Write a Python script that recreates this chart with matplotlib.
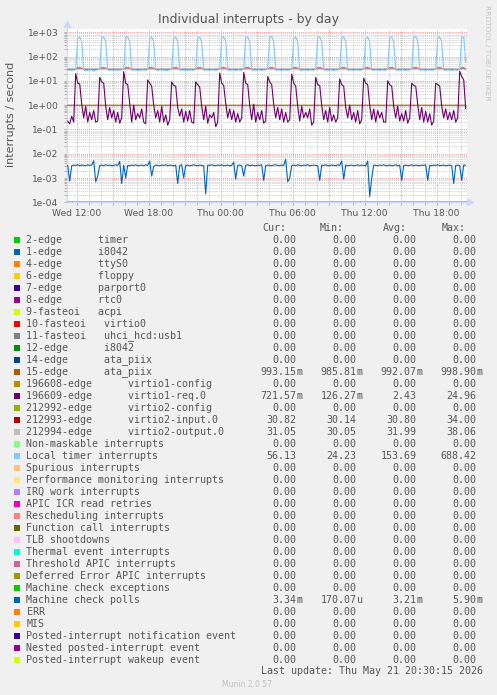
import numpy as np
import pandas as pd
import matplotlib
matplotlib.use("Agg")
import matplotlib.pyplot as plt
import matplotlib.dates as mdates
from matplotlib.patches import Rectangle
from matplotlib.lines import Line2D
from matplotlib.ticker import FuncFormatter, LogLocator, NullFormatter
from datetime import datetime

W, H = 497, 695
FG = "#555555"
MONO = "DejaVu Sans Mono"

# 10 minute samples, Wed 11:15 -> Thu 20:25
times = pd.date_range("2026-05-20 11:15", periods=200, freq="10min").to_pydatetime()

local_timer = [
    28, 27, 28, 27, 30, 560, 640, 400, 28, 26, 27, 28,
    28, 25, 27, 28, 31, 590, 650, 430, 28, 27, 28, 27,
    28, 27, 28, 28, 30, 570, 660, 420, 27, 28, 28, 27,
    27, 28, 28, 27, 30, 580, 640, 410, 28, 27, 28, 28,
    28, 27, 27, 28, 31, 560, 650, 420, 28, 28, 27, 28,
    27, 28, 28, 27, 30, 570, 640, 400, 27, 28, 28, 27,
    28, 28, 27, 28, 30, 590, 660, 430, 28, 27, 28, 28,
    27, 28, 28, 27, 31, 580, 650, 410, 28, 28, 27, 28,
    28, 27, 28, 28, 30, 600, 670, 420, 27, 28, 28, 27,
    28, 28, 27, 28, 30, 570, 640, 400, 28, 27, 28, 28,
    27, 28, 28, 27, 31, 580, 650, 420, 28, 28, 27, 28,
    28, 27, 28, 28, 30, 590, 660, 430, 27, 28, 28, 27,
    28, 28, 27, 28, 30, 570, 640, 410, 28, 27, 28, 28,
    27, 28, 28, 27, 31, 580, 650, 420, 28, 28, 27, 28,
    28, 27, 28, 28, 30, 610, 688, 440, 27, 28, 28, 27,
    28, 28, 27, 28, 30, 580, 650, 410, 28, 27, 28, 28,
    27, 28, 28, 27, 31, 590, 650, 56,
]

virtio2_input = [
    30.6, 30.5, 30.7, 30.5, 31.0, 33.5, 34.0, 33.0, 30.6, 30.5, 30.6, 30.5,
    30.6, 30.5, 30.7, 30.5, 31.0, 33.5, 34.0, 33.0, 30.6, 30.5, 30.6, 30.5,
    30.6, 30.5, 30.7, 30.5, 31.0, 33.5, 34.0, 33.0, 30.6, 30.5, 30.6, 30.5,
    30.6, 30.5, 30.7, 30.5, 31.0, 33.5, 34.0, 33.0, 30.6, 30.5, 30.6, 30.5,
    30.6, 30.5, 30.7, 30.5, 31.0, 33.5, 34.0, 33.0, 30.6, 30.5, 30.6, 30.5,
    30.6, 30.5, 30.7, 30.5, 31.0, 33.5, 34.0, 33.0, 30.6, 30.5, 30.6, 30.5,
    30.6, 30.5, 30.7, 30.5, 31.0, 33.5, 34.0, 33.0, 30.6, 30.5, 30.6, 30.5,
    30.6, 30.5, 30.7, 30.5, 31.0, 33.5, 34.0, 33.0, 30.6, 30.5, 30.6, 30.5,
    30.6, 30.5, 30.7, 30.5, 31.0, 33.5, 34.0, 33.0, 30.6, 30.5, 30.6, 30.5,
    30.6, 30.5, 30.7, 30.5, 31.0, 33.5, 34.0, 33.0, 30.6, 30.5, 30.6, 30.5,
    30.6, 30.5, 30.7, 30.5, 31.0, 33.5, 34.0, 33.0, 30.6, 30.5, 30.6, 30.5,
    30.6, 30.5, 30.7, 30.5, 31.0, 33.5, 34.0, 33.0, 30.6, 30.5, 30.6, 30.5,
    30.6, 30.5, 30.7, 30.5, 31.0, 33.5, 34.0, 33.0, 30.6, 30.5, 30.6, 30.5,
    30.6, 30.5, 30.7, 30.5, 31.0, 33.5, 34.0, 33.0, 30.6, 30.5, 30.6, 30.5,
    30.6, 30.5, 30.7, 30.5, 31.0, 33.5, 34.0, 33.0, 30.6, 30.5, 30.6, 30.5,
    30.6, 30.5, 30.7, 30.5, 31.0, 33.5, 34.0, 33.0, 30.6, 30.5, 30.6, 30.5,
    30.6, 30.5, 30.7, 30.5, 31.0, 33.5, 34.0, 30.82,
]

virtio2_output = [
    32.1, 31.9, 32.0, 32.2, 31.8, 30.6, 30.3, 30.8, 32.0, 32.1, 31.9, 32.0,
    32.1, 31.9, 32.0, 32.2, 31.8, 30.6, 30.3, 30.8, 32.0, 32.1, 31.9, 32.0,
    32.1, 31.9, 32.0, 32.2, 31.8, 30.6, 30.3, 30.8, 32.0, 32.1, 31.9, 32.0,
    32.1, 31.9, 32.0, 32.2, 31.8, 30.6, 30.3, 30.8, 32.0, 32.1, 31.9, 32.0,
    32.1, 31.9, 32.0, 32.2, 31.8, 30.6, 30.3, 30.8, 32.0, 32.1, 31.9, 32.0,
    32.1, 31.9, 32.0, 32.2, 31.8, 30.6, 30.3, 30.8, 32.0, 32.1, 31.9, 32.0,
    32.1, 31.9, 32.0, 32.2, 31.8, 30.6, 30.3, 30.8, 32.0, 32.1, 31.9, 32.0,
    32.1, 31.9, 32.0, 32.2, 31.8, 30.6, 30.3, 30.8, 32.0, 32.1, 31.9, 32.0,
    32.1, 31.9, 32.0, 32.2, 31.8, 30.6, 30.3, 30.8, 32.0, 32.1, 31.9, 32.0,
    32.1, 31.9, 32.0, 32.2, 31.8, 30.6, 30.3, 30.8, 32.0, 32.1, 31.9, 32.0,
    32.1, 31.9, 32.0, 32.2, 31.8, 30.6, 30.3, 30.8, 32.0, 32.1, 31.9, 32.0,
    32.1, 31.9, 32.0, 32.2, 31.8, 30.6, 30.3, 30.8, 32.0, 32.1, 31.9, 32.0,
    32.1, 31.9, 32.0, 32.2, 31.8, 30.6, 30.3, 30.8, 32.0, 32.1, 31.9, 32.0,
    32.1, 31.9, 32.0, 32.2, 31.8, 30.6, 30.3, 30.8, 32.0, 32.1, 31.9, 32.0,
    32.1, 31.9, 32.0, 32.2, 31.8, 30.6, 30.3, 30.8, 32.0, 32.1, 31.9, 32.0,
    32.1, 31.9, 32.0, 32.2, 31.8, 30.6, 30.3, 30.8, 32.0, 32.1, 31.9, 32.0,
    32.1, 31.9, 32.0, 32.2, 31.8, 30.6, 30.3, 31.05,
]

virtio1_req = [
    0.22, 0.17, 0.35, 0.2, 20, 8, 7.5, 1.1, 0.3, 0.9, 0.2, 0.5,
    0.25, 0.6, 0.2, 0.22, 14, 9, 8, 0.9, 0.25, 0.8, 0.3, 0.6,
    0.2, 0.5, 0.18, 0.3, 24, 8, 7, 1.2, 0.2, 1.0, 0.25, 0.45,
    0.3, 0.7, 0.2, 0.17, 11, 8, 6, 1.0, 0.3, 0.6, 0.2, 0.9,
    0.2, 0.4, 0.15, 0.25, 9, 6.5, 6, 0.8, 0.35, 0.7, 0.2, 0.55,
    0.22, 0.6, 0.2, 0.18, 9, 7, 5.5, 0.9, 0.25, 0.9, 0.18, 0.4,
    0.3, 0.5, 0.13, 0.2, 21, 8, 6.5, 1.2, 0.3, 0.7, 0.25, 0.6,
    0.2, 0.45, 0.2, 0.3, 22, 8, 7, 1.0, 0.25, 1.1, 0.2, 0.5,
    0.25, 0.6, 0.18, 0.22, 15, 9, 7, 1.1, 0.3, 0.8, 0.25, 0.7,
    0.2, 0.5, 0.2, 0.25, 19, 8, 6, 0.9, 0.22, 0.9, 0.3, 0.5,
    0.3, 0.7, 0.15, 0.2, 14, 7, 6.5, 1.0, 0.25, 0.6, 0.2, 0.8,
    0.22, 0.4, 0.2, 0.3, 12, 7, 6, 0.8, 0.3, 1.0, 0.25, 0.5,
    0.2, 0.6, 0.17, 0.25, 13, 8, 7, 1.0, 0.25, 0.7, 0.2, 0.6,
    0.3, 0.5, 0.2, 0.2, 10, 7, 6, 0.9, 0.3, 0.9, 0.22, 0.45,
    0.22, 0.6, 0.18, 0.3, 8, 6.5, 6, 1.1, 0.25, 0.8, 0.2, 0.55,
    0.2, 0.45, 0.15, 0.22, 8, 7, 6, 0.9, 0.3, 0.7, 0.25, 0.5,
    0.25, 0.6, 0.2, 0.3, 24.96, 15, 11, 0.72,
]

ata_piix = [
    0.994, 0.992, 0.990, 0.993, 0.991, 0.994, 0.992, 0.990, 0.993, 0.995,
    0.991, 0.992, 0.994, 0.990, 0.993, 0.991, 0.992, 0.994, 0.990, 0.993,
    0.992, 0.990, 0.994, 0.991, 0.993, 0.992, 0.995, 0.990, 0.992, 0.994,
    0.991, 0.993, 0.990, 0.992, 0.994, 0.991, 0.993, 0.990, 0.992, 0.994,
    0.993, 0.991, 0.992, 0.994, 0.990, 0.993, 0.991, 0.992, 0.995, 0.990,
    0.992, 0.994, 0.991, 0.993, 0.990, 0.992, 0.994, 0.991, 0.993, 0.992,
    0.990, 0.993, 0.991, 0.994, 0.992, 0.990, 0.993, 0.995, 0.991, 0.992,
    0.994, 0.990, 0.993, 0.991, 0.992, 0.994, 0.990, 0.993, 0.992, 0.991,
    0.993, 0.992, 0.990, 0.994, 0.991, 0.993, 0.992, 0.990, 0.994, 0.991,
    0.992, 0.993, 0.990, 0.994, 0.992, 0.991, 0.993, 0.990, 0.992, 0.994,
    0.991, 0.993, 0.992, 0.990, 0.994, 0.992, 0.991, 0.993, 0.990, 0.992,
    0.994, 0.991, 0.993, 0.992, 0.990, 0.993, 0.991, 0.994, 0.992, 0.990,
    0.992, 0.994, 0.991, 0.993, 0.990, 0.992, 0.994, 0.991, 0.993, 0.992,
    0.990, 0.993, 0.991, 0.994, 0.992, 0.990, 0.993, 0.995, 0.991, 0.992,
    0.994, 0.990, 0.993, 0.991, 0.992, 0.994, 0.990, 0.993, 0.992, 0.991,
    0.993, 0.992, 0.990, 0.994, 0.991, 0.993, 0.992, 0.990, 0.994, 0.991,
    0.992, 0.993, 0.990, 0.994, 0.992, 0.991, 0.993, 0.990, 0.992, 0.994,
    0.991, 0.993, 0.992, 0.990, 0.994, 0.992, 0.991, 0.993, 0.990, 0.992,
    0.994, 0.991, 0.993, 0.992, 0.990, 0.993, 0.991, 0.994, 0.992, 0.990,
    0.992, 0.994, 0.991, 0.993, 0.990, 0.992, 0.994, 0.991, 0.992, 0.993,
]

# machine check polls, in milli-interrupts / second
mc_polls_m = [
    3.3, 0.75, 3.2, 3.4, 3.3, 3.5, 3.2, 3.4, 3.3, 3.2, 3.5, 3.3,
    3.4, 5.2, 0.7, 1.2, 3.3, 3.4, 3.2, 3.5, 3.3, 3.4, 3.2, 3.3,
    3.5, 3.3, 4.8, 0.6, 3.4, 1.0, 3.3, 3.2, 3.4, 3.3, 3.5, 3.2,
    3.3, 3.4, 3.2, 3.5, 3.3, 5.0, 1.2, 3.0, 3.4, 3.3, 3.2, 3.4,
    3.3, 3.5, 3.2, 3.4, 3.3, 3.2, 3.4, 0.6, 3.3, 3.5, 1.0, 3.3,
    3.4, 3.2, 3.3, 3.5, 3.3, 3.2, 3.4, 3.3, 3.2, 0.22, 3.4, 3.3,
    3.5, 3.3, 3.2, 3.4, 3.3, 3.5, 3.2, 3.3, 3.4, 3.2, 3.3, 4.5,
    0.9, 3.3, 3.4, 3.2, 1.2, 3.3, 3.5, 3.2, 3.4, 3.3, 3.2, 3.4,
    3.3, 3.5, 0.8, 3.2, 3.4, 3.3, 3.2, 3.4, 3.5, 3.3, 3.2, 3.4,
    3.3, 5.9, 0.7, 1.0, 3.3, 3.4, 3.2, 3.5, 3.3, 3.2, 3.4, 3.3,
    3.5, 3.2, 3.3, 3.4, 3.3, 3.2, 0.8, 3.4, 3.3, 3.5, 3.2, 3.3,
    3.4, 3.3, 3.2, 3.5, 3.3, 5.0, 0.9, 3.4, 3.2, 3.3, 3.4, 3.2,
    3.3, 3.5, 3.2, 3.4, 3.3, 3.2, 5.0, 0.17, 1.0, 3.4, 3.3, 3.2,
    3.4, 3.3, 3.5, 3.2, 3.3, 3.4, 3.2, 3.3, 3.5, 3.2, 3.4, 0.8,
    3.3, 3.4, 3.2, 3.3, 3.5, 3.2, 3.4, 3.3, 3.2, 3.4, 3.3, 3.5,
    0.8, 3.3, 3.2, 3.4, 3.3, 3.5, 3.2, 3.3, 3.4, 3.2, 3.3, 3.4,
    3.2, 0.6, 3.3, 3.4, 3.3, 0.8, 3.4, 3.34,
]

zero = [0.0] * 200

labels = [
    "2-edge      timer", "1-edge      i8042", "4-edge      ttyS0",
    "6-edge      floppy", "7-edge      parport0", "8-edge      rtc0",
    "9-fasteoi   acpi", "10-fasteoi   virtio0", "11-fasteoi   uhci_hcd:usb1",
    "12-edge      i8042", "14-edge      ata_piix", "15-edge      ata_piix",
    "196608-edge      virtio1-config", "196609-edge      virtio1-req.0",
    "212992-edge      virtio2-config", "212993-edge      virtio2-input.0",
    "212994-edge      virtio2-output.0", "Non-maskable interrupts",
    "Local timer interrupts", "Spurious interrupts",
    "Performance monitoring interrupts", "IRQ work interrupts",
    "APIC ICR read retries", "Rescheduling interrupts",
    "Function call interrupts", "TLB shootdowns", "Thermal event interrupts",
    "Threshold APIC interrupts", "Deferred Error APIC interrupts",
    "Machine check exceptions", "Machine check polls", "ERR", "MIS",
    "Posted-interrupt notification event", "Nested posted-interrupt event",
    "Posted-interrupt wakeup event",
]
colors = [
    "#00cc00", "#0066b3", "#ff8000", "#ffcc00", "#330099", "#990099",
    "#ccff00", "#ff0000", "#808080", "#008f00", "#00487d", "#b35a00",
    "#b38f00", "#6b006b", "#8fb300", "#b30000", "#bebebe", "#80ff80",
    "#80c9ff", "#ffc080", "#ffe680", "#aa80ff", "#ee00cc", "#ff8080",
    "#666600", "#ffbfff", "#00ffcc", "#cc6699", "#999900", "#00cc00",
    "#0066b3", "#ff8000", "#ffcc00", "#330099", "#990099", "#ccff00",
]
series = {11: ata_piix, 13: virtio1_req, 15: virtio2_input,
          16: virtio2_output, 18: local_timer,
          30: list(np.array(mc_polls_m) * 1e-3)}

# legend statistics (Cur, Min, Avg, Max)
stats = {
    11: ["993.15m", "985.81m", "992.07m", "998.90m"],
    13: ["721.57m", "126.27m", "2.43", "24.96"],
    15: ["30.82", "30.14", "30.80", "34.00"],
    16: ["31.05", "30.05", "31.99", "38.06"],
    18: ["56.13", "24.23", "153.69", "688.42"],
    30: ["3.34m", "170.07u", "3.21m", "5.90m"],
}
default_stats = ["0.00", "0.00", "0.00", "0.00"]

fig = plt.figure(figsize=(W / 100, H / 100), dpi=100, facecolor="#f0f0f0")
ax = fig.add_axes([66.7 / W, 1 - 202.3 / H, 400 / W, (202.3 - 28.5) / H])
ax.set_facecolor("white")
ax.set_yscale("log")
ax.set_ylim(1e-4, 1430)
ax.set_xlim(datetime(2026, 5, 20, 11, 10), datetime(2026, 5, 21, 20, 30))

for i, lab in enumerate(labels):
    vals = np.clip(np.array(series.get(i, zero), dtype=float), 1e-4, None)
    if i in series:
        ax.plot(times, vals, color=colors[i], lw=0.8, zorder=3)
    else:
        # zero rates sit on the bottom edge, as rrdtool draws them
        ax.plot(times, vals, color=colors[i], lw=1.2, zorder=3)

# grid like rrdtool
ax.yaxis.set_major_locator(LogLocator(base=10, numticks=20))
ax.yaxis.set_minor_locator(LogLocator(base=10, subs=np.arange(2, 10), numticks=20))
ax.yaxis.set_major_formatter(FuncFormatter(lambda v, p: f"{v:.0e}"))
ax.yaxis.set_minor_formatter(NullFormatter())
ax.xaxis.set_major_locator(mdates.HourLocator(byhour=range(0, 24, 3)))
ax.xaxis.set_minor_locator(mdates.HourLocator(interval=1))


def xfmt(v, p):
    d = mdates.num2date(v)
    return d.strftime("%a %H:%M") if d.hour % 6 == 0 else ""


ax.xaxis.set_major_formatter(FuncFormatter(xfmt))
ax.grid(True, which="minor", color="#cfcfcf", lw=0.7, ls=(0, (1, 1)), zorder=1)
ax.grid(True, which="major", color="#eda0a0", lw=0.7, ls=(0, (1, 1)), zorder=1)
ax.tick_params(which="both", length=2, width=0.7, color="#b0b0b0",
               labelcolor=FG, labelsize=6.6)
ax.tick_params(axis="y", pad=4)
ax.tick_params(axis="x", pad=2.5)

for s in ["top", "right"]:
    ax.spines[s].set_visible(False)
ax.spines["left"].set_color("#cfd6f8")
ax.spines["bottom"].set_color("#cfd6f8")
ax.add_line(Line2D([0, 0], [0, 1.025], transform=ax.transAxes, color="#cfd6f8",
                   lw=0.8, clip_on=False))
ax.add_line(Line2D([0, 1.006], [0, 0], transform=ax.transAxes, color="#cfd6f8",
                   lw=0.8, clip_on=False, zorder=0))
ax.plot([0], [1.028], marker="^", ms=4.5, color="#cfd6f8", transform=ax.transAxes,
        clip_on=False)
ax.plot([1.009], [0], marker=">", ms=4.5, color="#cfd6f8", transform=ax.transAxes,
        clip_on=False)


def ftext(x, y, s, **kw):
    return fig.text(x / W, 1 - y / H, s, **kw)


ftext(248.7, 20, "Individual interrupts - by day", ha="center", va="center",
      fontsize=9, color=FG)
ftext(11, 114, "interrupts / second", rotation=90, ha="center", va="center",
      fontsize=8, color=FG)
ftext(487, 53, "RRDTOOL / TOBI OETIKER", rotation=270, ha="center", va="center",
      fontsize=5.4, color="#c4c4c4")

# legend
col_edges = [302.7, 362.7, 422.7, 482.7]
for x, h in zip([274.7, 331.3, 395, 453.3], ["Cur:", "Min:", "Avg:", "Max:"]):
    ftext(x, 228.3, h, ha="center", va="center", fontsize=7.2, family=MONO, color=FG)

for i, lab in enumerate(labels):
    y = 240 + 12 * i
    fig.add_artist(Rectangle((14 / W, 1 - (y + 3) / H), 6 / W, 6 / H,
                             transform=fig.transFigure, color=colors[i], lw=0))
    ftext(26.5, y, lab, ha="left", va="center", fontsize=7.2, family=MONO, color=FG)
    for edge, v in zip(col_edges, stats.get(i, default_stats)):
        unit = v[-1] if v[-1].isalpha() else ""
        num = v[:-1] if unit else v
        ftext(edge - 6, y, num, ha="right", va="center", fontsize=7.2,
              family=MONO, color=FG)
        if unit:
            ftext(edge - 6, y, unit, ha="left", va="center", fontsize=7.2,
                  family=MONO, color=FG)

ftext(482.7, 671, "Last update: Thu May 21 20:30:15 2026", ha="right",
      va="center", fontsize=7.2, family=MONO, color=FG)
ftext(247.5, 684.3, "Munin 2.0.57", ha="center", va="center", fontsize=5.5,
      color="#c0c0c0")

fig.savefig("out.png", dpi=100, facecolor=fig.get_facecolor())
